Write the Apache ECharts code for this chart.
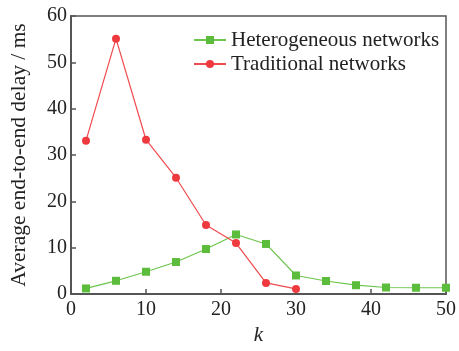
<!DOCTYPE html>
<html><head><meta charset="utf-8">
<script src="https://cdn.jsdelivr.net/npm/echarts@6/dist/echarts.min.js"></script>
<style>html,body{margin:0;padding:0;background:#fff}#c{width:459px;height:351px}</style>
</head><body><div id="c"></div>
<script>
const kHet = [2,6,10,14,18,22,26,30,34,38,42,46,50];
const hetValues = [1.2,2.85,4.8,6.9,9.7,12.85,10.8,4.0,2.8,1.9,1.4,1.35,1.35];
const kTrad = [2,6,10,14,18,22,26,30];
const tradValues = [33.1,55.1,33.3,25.1,14.9,11.0,2.4,1.1];
const xTicks = [0,10,20,30,40,50];
const yTicks = [0,10,20,30,40,50,60];

const font = '"Liberation Serif", "DejaVu Serif", serif';
const chart = echarts.init(document.getElementById('c'));
chart.setOption({
  animation: false,
  grid: {left: 69, top: 16, right: 12, bottom: 47, show: true, borderColor: '#555', borderWidth: 1.5},
  legend: {
    orient: 'vertical', left: 188, top: 23, itemGap: 0, itemWidth: 32, itemHeight: 10,
    textStyle: {fontFamily: font, fontSize: 21, color: '#222', lineHeight: 24, padding: [0,0,0,0]},
    data: ['Heterogeneous networks', 'Traditional networks']
  },
  xAxis: {
    type: 'value', min: xTicks[0], max: xTicks[xTicks.length-1], interval: 10,
    name: 'k', nameLocation: 'middle', nameGap: 31,
    nameTextStyle: {fontFamily: font, fontSize: 21, fontStyle: 'italic', color: '#222'},
    axisLine: {lineStyle: {color: '#555', width: 2}},
    axisTick: {inside: true, length: 5, lineStyle: {color: '#555', width: 1.5}},
    axisLabel: {fontFamily: font, fontSize: 20, color: '#222', margin: 6},
    splitLine: {show: false}
  },
  yAxis: {
    type: 'value', min: yTicks[0], max: yTicks[yTicks.length-1], interval: 10,
    name: 'Average end-to-end delay / ms', nameLocation: 'middle', nameGap: 41,
    nameTextStyle: {fontFamily: font, fontSize: 21.5, color: '#222'},
    axisLine: {lineStyle: {color: '#555', width: 2}},
    axisTick: {inside: true, length: 5, lineStyle: {color: '#555', width: 1.5}},
    axisLabel: {fontFamily: font, fontSize: 20, color: '#222', margin: 4},
    splitLine: {show: false}
  },
  series: [
    {name: 'Heterogeneous networks', type: 'line', symbol: 'rect', symbolSize: 8,
     itemStyle: {color: '#5cbd3c'}, lineStyle: {color: '#6cc54c', width: 1.2},
     data: kHet.map((k,i)=>[k, hetValues[i]]), z: 2},
    {name: 'Traditional networks', type: 'line', symbol: 'circle', symbolSize: 8,
     itemStyle: {color: '#ee3a3f'}, lineStyle: {color: '#f04a4e', width: 1.2},
     data: kTrad.map((k,i)=>[k, tradValues[i]]), z: 3}
  ]
});
</script></body></html>
